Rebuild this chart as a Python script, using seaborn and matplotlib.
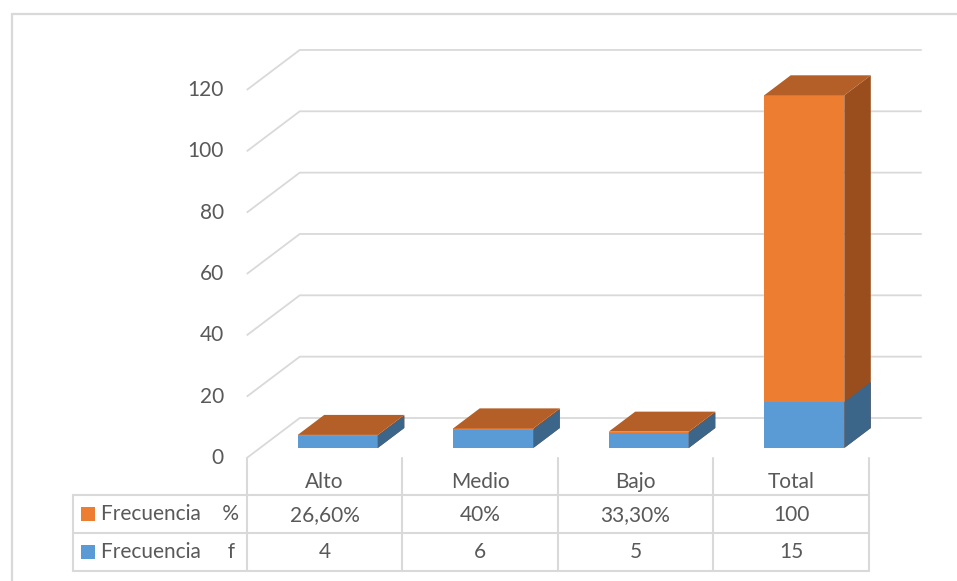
import matplotlib
matplotlib.use("Agg")
import matplotlib.pyplot as plt
import pandas as pd
import seaborn as sns
from matplotlib.patches import Polygon, Rectangle
from matplotlib.lines import Line2D

# ---- data -------------------------------------------------------------
categories = ["Alto", "Medio", "Bajo", "Total"]
freq_f = [4, 6, 5, 15]
freq_pct = [0.266, 0.40, 0.333, 100]
pct_labels = ["26,60%", "40%", "33,30%", "100"]
f_labels = ["4", "6", "5", "15"]
series_names = ["Frecuencia    %", "Frecuencia     f"]
y_ticks = [0, 20, 40, 60, 80, 100, 120]

# ---- style ------------------------------------------------------------
ORANGE, ORANGE_TOP, ORANGE_SIDE = "#ED7D31", "#B45F27", "#9A4E1D"
BLUE, BLUE_TOP, BLUE_SIDE = "#5B9BD5", "#4A7FB0", "#3B6589"
GRID = "#d9d9d9"
TEXT = "#595959"
FS = 15

sns.set_theme(style="white")
plt.rcParams["font.family"] = ["Lato", "DejaVu Sans"]

W, H = 957, 581
fig = plt.figure(figsize=(W / 100, H / 100), dpi=100)
ax = fig.add_axes([0, 0, 1, 1])

# pixel layout of the oblique frame
PX_CAT = 155.5      # width of one category on the front plane
X0_PX = 324.5       # centre of first category
Y0_PX = 458         # value 0 on the front plane (from the top)
PX_VAL = 3.067      # pixels per value unit
DX = 53 / PX_CAT    # full depth, horizontal (category units)
DY = 40 / PX_VAL    # full depth, vertical (value units)


def vy(py):
    """value coordinate of a pixel row"""
    return (Y0_PX - py) / PX_VAL


def cx(px):
    """category coordinate of a pixel column"""
    return (px - X0_PX) / PX_CAT


# ---- bars (front faces) ----------------------------------------------
df = pd.DataFrame({
    "cat": categories,
    "f": freq_f,
    "stack": [a + b for a, b in zip(freq_f, freq_pct)],
})
BAR_W = 0.515
sns.barplot(data=df, x="cat", y="stack", color=ORANGE, saturation=1,
            width=BAR_W, errorbar=None, linewidth=0, ax=ax, zorder=3)
sns.barplot(data=df, x="cat", y="f", color=BLUE, saturation=1,
            width=BAR_W, errorbar=None, linewidth=0, ax=ax, zorder=3)

n = len(categories)
orange_bars = ax.patches[:n]
blue_bars = ax.patches[n:2 * n]

# bars sit in the middle half of the depth
off_x, off_y = 0.25 * DX, 0.25 * DY
bdx, bdy = 0.5 * DX, 0.5 * DY

for bars, side_col, top_col in ((orange_bars, ORANGE_SIDE, ORANGE_TOP),
                                (blue_bars, BLUE_SIDE, BLUE_TOP)):
    for p in bars:
        p.set_x(p.get_x() + off_x)
        p.set_y(p.get_y() + off_y)
        x, y, w, h = p.get_x(), p.get_y(), p.get_width(), p.get_height()
        side = Polygon([(x + w, y), (x + w + bdx, y + bdy),
                        (x + w + bdx, y + h + bdy), (x + w, y + h)],
                       closed=True, facecolor=side_col, edgecolor="none",
                       zorder=3.1)
        ax.add_patch(side)
        if bars is orange_bars:
            top = Polygon([(x, y + h), (x + bdx, y + h + bdy),
                           (x + w + bdx, y + h + bdy), (x + w, y + h)],
                          closed=True, facecolor=top_col, edgecolor="none",
                          zorder=3.2)
            ax.add_patch(top)

# ---- walls: left diagonals and back gridlines ------------------------
left = -0.5
right = n - 0.5
for v in y_ticks:
    ax.plot([left, left + DX, right + DX], [v, v + DY, v + DY],
            color=GRID, lw=1.3, zorder=1, solid_capstyle="butt")
    ax.text(cx(224), v, str(v), ha="right", va="center",
            fontsize=FS, color=TEXT)

# ---- data table -------------------------------------------------------
row_lines = [vy(495), vy(533), vy(571)]
tbl_left = cx(73)
for yl in row_lines:
    ax.plot([tbl_left, right], [yl, yl], color=GRID, lw=1.5, zorder=1)
ax.plot([tbl_left, tbl_left], [row_lines[0], row_lines[-1]],
        color=GRID, lw=1.5, zorder=1)
for k in range(n + 1):
    xb = left + k
    ax.plot([xb, xb], [0, row_lines[-1]], color=GRID, lw=1.5, zorder=1)

for i, c in enumerate(categories):
    ax.text(i, vy(482), c, ha="center", va="center", fontsize=FS, color=TEXT)
    ax.text(i, vy(515), pct_labels[i], ha="center", va="center",
            fontsize=FS, color=TEXT)
    ax.text(i, vy(552), f_labels[i], ha="center", va="center",
            fontsize=FS, color=TEXT)

sq_w = 14 / PX_CAT
sq_h = 14 / PX_VAL
for name, col, py in ((series_names[0], ORANGE, 514), (series_names[1], BLUE, 552)):
    ax.add_patch(Rectangle((cx(81), vy(py) - sq_h / 2), sq_w, sq_h,
                           facecolor=col, edgecolor="none", zorder=2))
    ax.text(cx(101), vy(py), name, ha="left", va="center",
            fontsize=FS, color=TEXT)

ax.set_xlim(cx(0), cx(W))
ax.set_ylim(vy(H), vy(0))
ax.set_axis_off()

# outer chart border
fig.add_artist(Line2D([12 / W, 12 / W], [0, 1 - 14 / H], color=GRID, lw=1.6))
fig.add_artist(Line2D([12 / W, 1], [1 - 14 / H, 1 - 14 / H], color=GRID, lw=1.6))

fig.savefig("out.png", dpi=100, facecolor="white")
